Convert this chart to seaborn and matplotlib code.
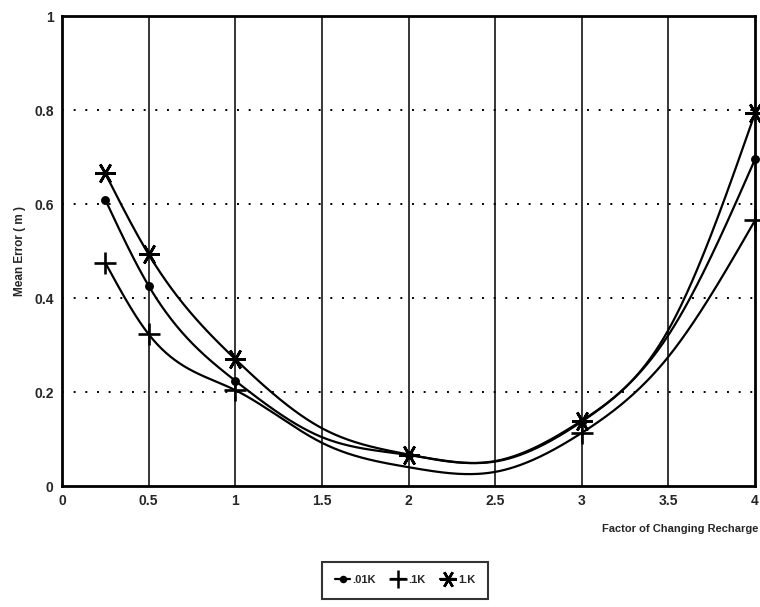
import numpy as np
import pandas as pd
import matplotlib
matplotlib.use("Agg")
import matplotlib.pyplot as plt
import seaborn as sns
from matplotlib.ticker import MultipleLocator
from matplotlib.lines import Line2D

# ---- data ----
# values
factor = [0.25, 0.5, 1.0, 1.5, 2.0, 2.5, 3.0, 3.5, 4.0]
err_001k = [0.609, 0.426, 0.224, 0.104, 0.066, 0.052, 0.137, 0.321, 0.695]
err_01k = [0.475, 0.323, 0.204, 0.092, 0.040, 0.030, 0.113, 0.275, 0.565]
err_1k = [0.665, 0.493, 0.270, 0.123, 0.067, 0.053, 0.139, 0.332, 0.793]
# factors at which each series shows a marker
marked_001k = [0.25, 0.5, 1.0, 2.0, 3.0, 4.0]
marked_01k = [0.25, 0.5, 1.0, 3.0, 4.0]
marked_1k = [0.25, 0.5, 1.0, 2.0, 3.0, 4.0]
series_names = [".01K", ".1K", "1.K"]
x_ticks = [0, 0.5, 1, 1.5, 2, 2.5, 3, 3.5, 4]
x_tick_labels = ["0", "0.5", "1", "1.5", "2", "2.5", "3", "3.5", "4"]
y_ticks = [0, 0.2, 0.4, 0.6, 0.8, 1]
y_tick_labels = ["0", "0.2", "0.4", "0.6", "0.8", "1"]


def smooth_curve(x, y, num=600):
    """Natural cubic spline drawn through the read points."""
    x = np.asarray(x, float)
    y = np.asarray(y, float)
    n = len(x)
    h = np.diff(x)
    A = np.zeros((n, n))
    b = np.zeros(n)
    A[0, 0] = 1
    A[-1, -1] = 1
    for i in range(1, n - 1):
        A[i, i - 1] = h[i - 1]
        A[i, i] = 2 * (h[i - 1] + h[i])
        A[i, i + 1] = h[i]
        b[i] = 3 * ((y[i + 1] - y[i]) / h[i] - (y[i] - y[i - 1]) / h[i - 1])
    c = np.linalg.solve(A, b)
    xs = np.linspace(x[0], x[-1], num)
    idx = np.clip(np.searchsorted(x, xs) - 1, 0, n - 2)
    dx = xs - x[idx]
    bi = (y[idx + 1] - y[idx]) / h[idx] - h[idx] * (2 * c[idx] + c[idx + 1]) / 3
    di = (c[idx + 1] - c[idx]) / (3 * h[idx])
    ys = y[idx] + bi * dx + c[idx] * dx**2 + di * dx**3
    return xs, ys


sns.set_theme(style="white")
plt.rcParams["font.family"] = ["Liberation Sans", "DejaVu Sans"]

fig = plt.figure(figsize=(7.6, 6.07), dpi=100)
ax = fig.add_axes([62 / 760, 1 - 486 / 607, (755 - 62) / 760, (486 - 16) / 607])

# grid
for xv in x_ticks[1:-1]:
    ax.axvline(xv, color="black", lw=1.1, zorder=1)
for yv in y_ticks[1:-1]:
    ax.axhline(yv, color="black", lw=1.4, ls=(0, (1, 5)), zorder=1)

markers = {".01K": "o", ".1K": "+", "1.K": (6, 2, 90)}
msizes = {".01K": 4.5, ".1K": 16, "1.K": 15}
values = {".01K": err_001k, ".1K": err_01k, "1.K": err_1k}
marked = {".01K": marked_001k, ".1K": marked_01k, "1.K": marked_1k}

for name in series_names:
    cx, cy = smooth_curve(factor, values[name])
    curve = pd.DataFrame({"x": cx, "y": cy})
    sns.lineplot(data=curve, x="x", y="y", color="black", lw=1.6, ax=ax,
                 zorder=3, estimator=None, sort=False)
    pts = pd.DataFrame({"x": factor, "y": values[name]})
    pts = pts[pts["x"].isin(marked[name])]
    ax.plot(pts["x"], pts["y"], ls="none", marker=markers[name],
            ms=msizes[name], mec="black", mfc="black", mew=1.9, zorder=4,
            clip_on=False)

ax.set_xlim(0, 4)
ax.set_ylim(0, 1)
ax.set_xticks(x_ticks)
ax.set_yticks(y_ticks)
ax.set_xticklabels(x_tick_labels)
ax.set_yticklabels(y_tick_labels)
ax.xaxis.set_minor_locator(MultipleLocator(0.1))
ax.yaxis.set_minor_locator(MultipleLocator(0.05))
ax.tick_params(axis="both", which="both", direction="in", color="black")
ax.tick_params(axis="both", which="major", length=14, width=1.5,
               labelsize=10, pad=6)
ax.tick_params(axis="x", which="major", length=8)
ax.tick_params(axis="both", which="minor", length=8, width=1.5)
for lab in ax.get_xticklabels() + ax.get_yticklabels():
    lab.set_fontweight("bold")
for sp in ax.spines.values():
    sp.set_color("black")
    sp.set_linewidth(2)
    sp.set_visible(True)

ax.set_xlabel("")
ax.set_ylabel("Mean Error ( m )", fontsize=8.5, fontweight="bold", labelpad=6)
fig.text(758 / 760, 1 - 529 / 607, "Factor of Changing Recharge",
         ha="right", va="center", fontsize=8, fontweight="bold")

handles = [Line2D([], [], color="black", lw=1.6, marker=markers[n],
                  ms=msizes[n] * 0.8, mew=1.8, mfc="black", mec="black")
           for n in series_names]
leg = fig.legend(handles, series_names, loc="upper center",
                 bbox_to_anchor=(405 / 760, 1 - 562 / 607), ncol=3,
                 frameon=True, fancybox=False, handlelength=1.4,
                 handletextpad=0.2, columnspacing=1.3, borderpad=1.2,
                 borderaxespad=0, prop={"size": 8, "weight": "bold"})
leg.get_frame().set_edgecolor("black")
leg.get_frame().set_linewidth(1.5)

fig.savefig("out.png", dpi=100)
